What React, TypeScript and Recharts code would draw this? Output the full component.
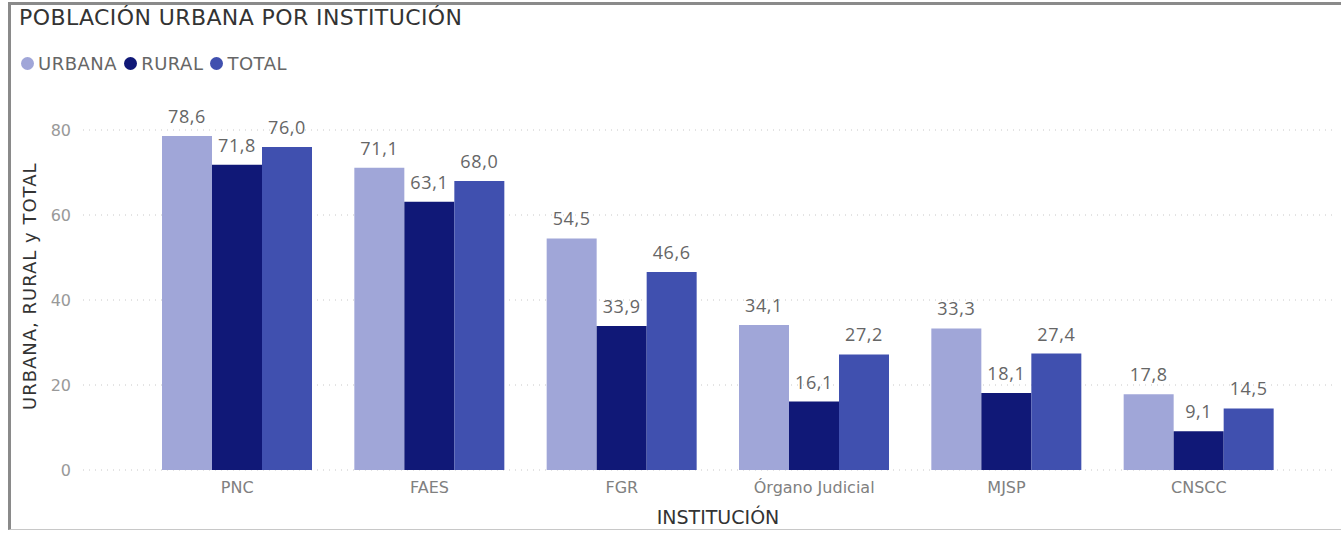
import { Bar, BarChart, CartesianGrid, LabelList, XAxis, YAxis } from "recharts";

const CATEGORIES = ["PNC", "FAES", "FGR", "Órgano Judicial", "MJSP", "CNSCC"];
const URBANA = [78.6, 71.1, 54.5, 34.1, 33.3, 17.8];
const RURAL = [71.8, 63.1, 33.9, 16.1, 18.1, 9.1];
const TOTAL = [76.0, 68.0, 46.6, 27.2, 27.4, 14.5];
const Y_TICKS = [0, 20, 40, 60, 80];

const SERIES = [
  { key: "URBANA", color: "#A0A6D8" },
  { key: "RURAL", color: "#101877" },
  { key: "TOTAL", color: "#4050AF" },
];

const rows = CATEGORIES.map((name, i) => ({
  name,
  URBANA: URBANA[i],
  RURAL: RURAL[i],
  TOTAL: TOTAL[i],
}));

const DIN = "'DejaVu Sans', sans-serif";
const SEGOE = "'Open Sans', 'Noto Sans', sans-serif";
const fmt = (v: unknown) => Number(v).toFixed(1).replace(".", ",");

export default function App() {
  return (
    <div
      style={{
        position: "absolute",
        left: 0,
        top: 0,
        width: 1341,
        height: 533,
        background: "#fff",
        overflow: "hidden",
      }}
    >
      {/* card frame */}
      <div
        style={{
          position: "absolute",
          left: 8,
          top: 2,
          width: 1345,
          height: 528,
          borderTop: "3px solid #8a8a8a",
          borderLeft: "3px solid #8a8a8a",
          borderBottom: "1px solid #c8c8c8",
          boxSizing: "border-box",
        }}
      />
      <div
        style={{
          position: "absolute",
          left: 19,
          top: 5,
          fontFamily: DIN,
          fontSize: 22,
          letterSpacing: 0.4,
          color: "#333",
          whiteSpace: "nowrap",
        }}
      >
        POBLACIÓN URBANA POR INSTITUCIÓN
      </div>
      <div
        style={{
          position: "absolute",
          left: 21,
          top: 53,
          display: "flex",
          alignItems: "center",
          fontFamily: DIN,
          fontSize: 18,
          letterSpacing: 0.5,
          color: "#666",
        }}
      >
        {SERIES.map((s) => (
          <span key={s.key} style={{ display: "flex", alignItems: "center", marginRight: 7 }}>
            <span
              style={{
                width: 13,
                height: 13,
                borderRadius: 7,
                background: s.color,
                marginRight: 4,
              }}
            />
            {s.key}
          </span>
        ))}
      </div>
      <BarChart
        width={1341}
        height={533}
        data={rows}
        margin={{ top: 130, right: 8, left: 0, bottom: 0 }}
        barCategoryGap={21}
        barGap={0}
        style={{ position: "absolute", left: 0, top: 0 }}
      >
        <CartesianGrid
          vertical={false}
          stroke="#c8c8c8"
          strokeDasharray="1 5"
        />
        <XAxis
          dataKey="name"
          height={63}
          padding={{ left: 58, right: 38 }}
          axisLine={false}
          tickLine={false}
          tickSize={0}
          tickMargin={12}
          tick={{ fontFamily: DIN, fontSize: 16, fill: "#808080" }}
          label={{
            value: "INSTITUCIÓN",
            position: "insideBottom",
            dx: 10,
            offset: 9,
            style: { fontFamily: DIN, fontSize: 19, fill: "#333" },
          }}
        />
        <YAxis
          width={83}
          domain={[0, 80]}
          ticks={Y_TICKS}
          axisLine={false}
          tickLine={false}
          tickSize={0}
          tickMargin={12}
          tick={{ fontFamily: DIN, fontSize: 16, fill: "#999" }}
          label={{
            value: "URBANA, RURAL y TOTAL",
            angle: -90,
            position: "insideLeft",
            dx: 25,
            dy: 110,
            style: { fontFamily: DIN, fontSize: 18, letterSpacing: 1, fill: "#333" },
          }}
        />
        {SERIES.map((s) => (
          <Bar key={s.key} dataKey={s.key} fill={s.color} isAnimationActive={false}>
            <LabelList
              dataKey={s.key}
              position="top"
              offset={13}
              formatter={fmt}
              fill="#666"
              fontSize={18}
              fontFamily={SEGOE}
              letterSpacing={0.6}
            />
          </Bar>
        ))}
      </BarChart>
    </div>
  );
}
